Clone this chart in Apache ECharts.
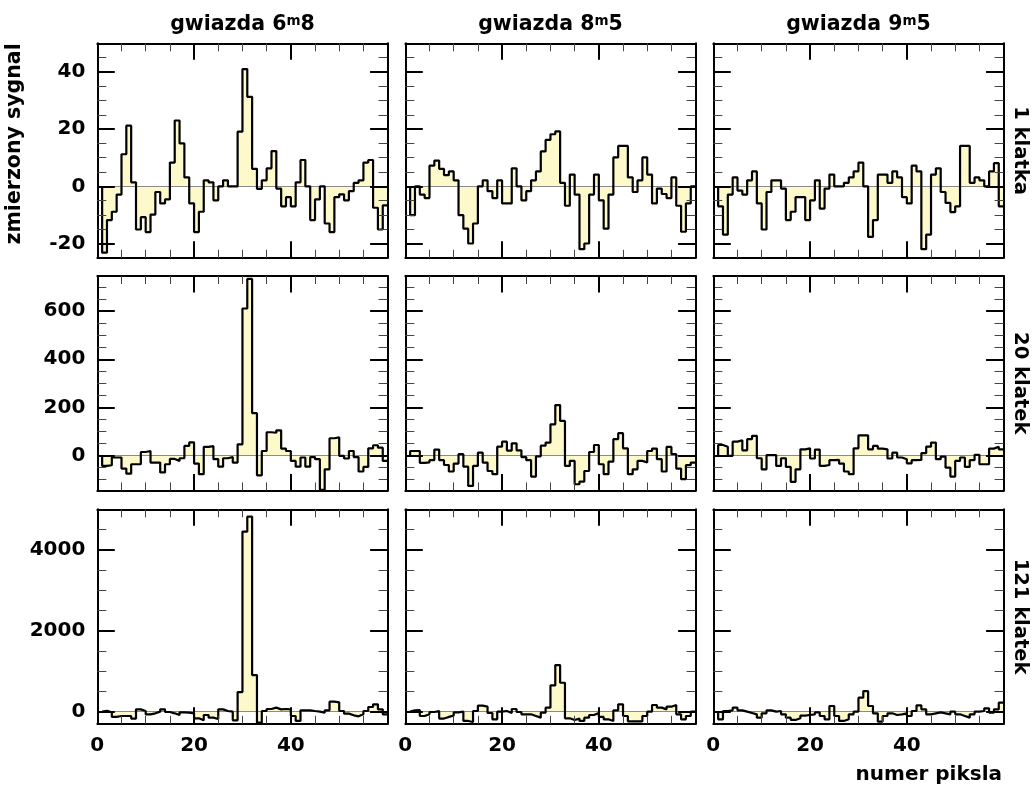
<!DOCTYPE html>
<html>
<head>
<meta charset="utf-8">
<title>gwiazdy - zmierzony sygnal</title>
<script src="https://cdn.jsdelivr.net/npm/echarts@6/dist/echarts.min.js"></script>
<style>
html, body { margin: 0; padding: 0; background: #fff; }
#chart { width: 1034px; height: 792px; }
</style>
</head>
<body>
<div id="chart"></div>
<script>
// numery pikseli (lewe krawedzie binow 1..59, prawa krawedz ostatniego = 60)
var pixelEdges = [];
for (var p = 1; p <= 60; p++) pixelEdges.push(p);

var starNames = ['6', '8', '9'];
var starFrac = ['8', '5', '5'];
var rowNames = ['1 klatka', '20 klatek', '121 klatek'];

// 1 klatka
var k1_s68 = [-23.2, -11.8, -8.9, -2.9, 11.2, 21.2, 1.4, -15.1, -10.8, -16, -9.9, -2, -6, -4.6, 8.3, 23, 15, 3.1, -6, -16,
  -8.9, 2.1, 1.4, -4.9, 0, 2.1, 0, 0, 19.1, 41, 31.3, 6.1, -0.9, 2.1, 6.3, 12.3, -0.8, -7, -3.8, -7,
  1.4, 9.2, 0, -11.8, -4.6, 0, -13, -16, -3.8, -2.8, -4.9, -1.7, 1.2, 2.1, 8.3, 9.2, -7.5, -15.1, -6.7];
var k1_s85 = [-10.1, 0, -2.9, -4.1, 7.2, 9, 6.1, 3.9, 5.2, 2.1, -10.1, -14.8, -20, -13, 0, 2.1, -1.7, -4.1, 2.1, -6,
  -6, 6.3, 0, -4.9, -1.7, 2.1, 5.2, 12.2, 16.2, 18.2, 19.2, 1.2, -6.8, 4.1, -2.9, -22, -20, -2.9, 4.1, -4.9,
  -14.8, -2.9, 10.1, 14.1, 14.1, 3.1, -2, 2.1, 10.1, 4.1, -6, -0.8, -2.7, -4.1, 3.1, -6.8, -15.9, -6, 0];
var k1_s95 = [-7, -16.9, -2.9, 3.1, -1.5, -2.9, 2.1, 5.2, -6, -15.1, -2, 2.1, 2.1, -0.8, -11.8, -8.9, -3.8, -3.8, -11.8, -4.9,
  2.1, -7.8, -0.8, 4.1, 0, 0, 1.2, 3.1, 5.2, 8.3, 0, -17.7, -11.8, 4.1, 4.1, 1.2, 5.2, 3.1, -3.8, -6,
  7.2, 5.2, -22, -16.9, 4.1, 6.3, -2, -5.8, -9, -7, 14.1, 14.1, 1.2, 3.1, 2.1, 0, 5.2, 8.1, -7];

// 20 klatek
var k20_s68 = [-43, -40, -8, -8, -54, -75, -36, -36, 15, 19, -29, -29, -70, -36, -14, -22, -11, 40, 55, -33,
  -77, 36, 39, -15, -46, -11, -6, -29, 47, 611, 734, 176, -82, 19, 97, 95, 105, 29, 19, -22,
  -46, -8, -46, -6, -15, -142, -57, 72, 76, -1, -12, 19, -6, -66, -47, 30, 43, 33, -22];
var k20_s85 = [19, 19, -30, -28, -19, 25, -19, -39, -66, -33, 6, -46, -126, -43, 12, -29, -64, -77, 37, 58,
  21, 51, 22, -6, -19, -87, -3, 41, 54, 130, 210, 144, -43, -22, -119, -108, -64, 15, 44, -36,
  -77, -25, 68, 93, 30, -77, -57, -22, -29, 19, 29, -15, -66, 36, 6, -54, -98, -40, -29];
var k20_s95 = [44, 37, -1, 58, 64, 22, 68, 82, -11, -57, 2, 2, -43, -11, -47, -109, -57, 26, 30, -12,
  25, -43, -39, -19, -18, -33, -66, -77, 30, 84, 84, 26, 40, 29, 26, -12, 12, -8, -15, -32,
  -19, -18, 10, 37, 54, -15, -4, -50, -87, -22, -8, -47, -19, 3, -36, -36, 29, 37, 26];

// 121 klatek
var k121_s68 = [20, -16, -130, -107, -107, -107, -170, 57, 16, -66, -41, 0, 57, -8, -41, -82, -16, -25, -41, -164,
  -213, -82, -148, -180, 57, 16, 0, -213, 484, 4450, 4819, 903, -271, 16, 66, 99, 57, 66, 57, -107,
  -230, 33, 33, 16, 0, -25, 33, 246, 230, 16, -49, -90, -115, -66, 16, 115, 181, 57, -66];
var k121_s85 = [33, 41, -107, -66, -8, 16, -170, -130, -98, -16, 0, -230, -255, 16, 148, 123, -33, -189, 0, 16,
  -33, 66, -8, -66, -66, -107, -148, -25, 99, 649, 1150, 714, -164, -205, -172, -230, -148, -82, -33, -130,
  -189, -230, 33, 181, -107, -238, -238, -238, -107, 0, 164, 99, 57, 123, 164, -66, -189, -107, 0];
var k121_s95 = [-189, 16, 33, 99, 33, 0, -33, -66, -148, -41, 33, 0, 16, -66, -148, -205, -164, -98, -82, -66,
  -16, -107, -189, 140, -107, -230, -189, -66, 0, 345, 509, 140, -41, -246, -107, -41, -82, -66, -41, -107,
  16, 156, 57, -66, -41, -16, -41, -66, 0, -66, -107, -148, -66, 0, 16, 82, -25, 57, 222];

// osie
var xRange = [0, 60];
var xMajor = [0, 20, 40, 60];
var xMinor = [5, 10, 15, 25, 30, 35, 45, 50, 55];
var xLabels = [0, 20, 40];

var yRange1 = [-25, 50];
var yMajor1 = [-20, 0, 20, 40];
var yMinor1 = [-15, -10, -5, 5, 10, 15, 25, 30, 35, 45];
var yRange20 = [-145, 746];
var yMajor20 = [0, 200, 400, 600];
var yMinor20 = [-100, -50, 50, 100, 150, 250, 300, 350, 450, 500, 550, 650, 700];
var yRange121 = [-300, 5000];
var yMajor121 = [0, 2000, 4000];
var yMinor121 = [500, 1000, 1500, 2500, 3000, 3500, 4500];

var rows = [
  { data: [k1_s68, k1_s85, k1_s95], range: yRange1, major: yMajor1, minor: yMinor1 },
  { data: [k20_s68, k20_s85, k20_s95], range: yRange20, major: yMajor20, minor: yMinor20 },
  { data: [k121_s68, k121_s85, k121_s95], range: yRange121, major: yMajor121, minor: yMinor121 }
];

var FONT = 'DejaVu Sans';
var FILL = '#fdf9cb';
var colLeft = [97.3, 405.3, 713.3];
var rowTop = [43.3, 276, 509.3];
var panelW = 290.3, panelH = 214.5;

function histData(vals) {
  var d = [[pixelEdges[0], 0]];
  for (var i = 0; i < vals.length; i++) d.push([pixelEdges[i], vals[i]]);
  d.push([pixelEdges[vals.length], vals[vals.length - 1]]);
  return d;
}

function tickAxis(g, pos, range, ticks, len, major, labels) {
  return {
    type: 'value', gridIndex: g, position: pos, min: range[0], max: range[1], z: 10,
    axisLine: { show: major, onZero: false, lineStyle: { color: '#000', width: 2 } },
    splitLine: { show: false },
    axisTick: {
      show: true, inside: true, length: len, customValues: ticks,
      lineStyle: { color: major ? '#000' : '#444', width: major ? 2 : 1 }
    },
    axisLabel: labels ? {
      show: true, customValues: labels, margin: 12,
      fontFamily: FONT, fontWeight: 'bold', fontSize: 20, color: '#000',
      formatter: function (v) { return String(v); }
    } : { show: false }
  };
}

var grids = [], xAxes = [], yAxes = [], series = [], graphics = [];

for (var r = 0; r < 3; r++) {
  for (var c = 0; c < 3; c++) {
    var g = grids.length;
    var row = rows[r];
    grids.push({
      left: colLeft[c], top: rowTop[r], width: panelW, height: panelH,
      show: false, outerBoundsMode: 'none'
    });
    xAxes.push(tickAxis(g, 'bottom', xRange, xMajor, 16.5, true, r === 2 ? xLabels : null));
    xAxes.push(tickAxis(g, 'bottom', xRange, xMinor, 8, false, null));
    xAxes.push(tickAxis(g, 'top', xRange, xMajor, 16.5, true, null));
    xAxes.push(tickAxis(g, 'top', xRange, xMinor, 8, false, null));
    yAxes.push(tickAxis(g, 'left', row.range, row.major, 17.5, true, c === 0 ? row.major : null));
    yAxes.push(tickAxis(g, 'left', row.range, row.minor, 9, false, null));
    yAxes.push(tickAxis(g, 'right', row.range, row.major, 17.5, true, null));
    yAxes.push(tickAxis(g, 'right', row.range, row.minor, 9, false, null));

    var d = histData(row.data[c]);
    // wypelnienie + linia zera
    series.push({
      type: 'line', xAxisIndex: 4 * g, yAxisIndex: 4 * g, step: 'end', data: d,
      symbol: 'none', z: 2, silent: true,
      lineStyle: { opacity: 0 },
      areaStyle: { color: FILL, opacity: 1 },
      markLine: {
        silent: true, symbol: ['none', 'none'], z: 3, animation: false,
        label: { show: false },
        lineStyle: { color: '#8a8a8a', width: 1.2, type: 'solid' },
        data: [{ yAxis: 0 }]
      }
    });
    // obrys histogramu
    series.push({
      type: 'line', xAxisIndex: 4 * g, yAxisIndex: 4 * g, step: 'end', data: d,
      symbol: 'none', z: 4, silent: true,
      lineStyle: { color: '#000', width: 2.2 }
    });
  }
}

// tytuly kolumn
for (var c2 = 0; c2 < 3; c2++) {
  graphics.push({
    type: 'text', x: colLeft[c2] + panelW / 2, y: 25,
    style: {
      text: 'gwiazda ' + starNames[c2] + '{sup|m}' + starFrac[c2],
      fontFamily: FONT, fontWeight: 'bold', fontSize: 20.5, fill: '#000',
      align: 'center', verticalAlign: 'middle',
      rich: {
        sup: { fontFamily: FONT, fontWeight: 'bold', fontSize: 13.5, fill: '#000', verticalAlign: 'top', lineHeight: 12 }
      }
    }
  });
}
// opisy wierszy
for (var r2 = 0; r2 < 3; r2++) {
  graphics.push({
    type: 'text', x: 1020, y: rowTop[r2] + panelH / 2, rotation: -Math.PI / 2,
    style: {
      text: rowNames[r2], fontFamily: FONT, fontWeight: 'bold', fontSize: 19.5, fill: '#000',
      align: 'center', verticalAlign: 'middle'
    }
  });
}
graphics.push({
  type: 'text', x: 15, y: rowTop[0], rotation: Math.PI / 2,
  style: {
    text: 'zmierzony sygnal', fontFamily: FONT, fontWeight: 'bold', fontSize: 20.5, fill: '#000',
    align: 'right', verticalAlign: 'middle'
  }
});
graphics.push({
  type: 'text', x: 1002, y: 775,
  style: {
    text: 'numer piksla', fontFamily: FONT, fontWeight: 'bold', fontSize: 20, fill: '#000',
    align: 'right', verticalAlign: 'middle'
  }
});

var chart = echarts.init(document.getElementById('chart'));
chart.setOption({
  animation: false,
  backgroundColor: '#fff',
  grid: grids,
  xAxis: xAxes,
  yAxis: yAxes,
  series: series,
  graphic: graphics
});
</script>
</body>
</html>
